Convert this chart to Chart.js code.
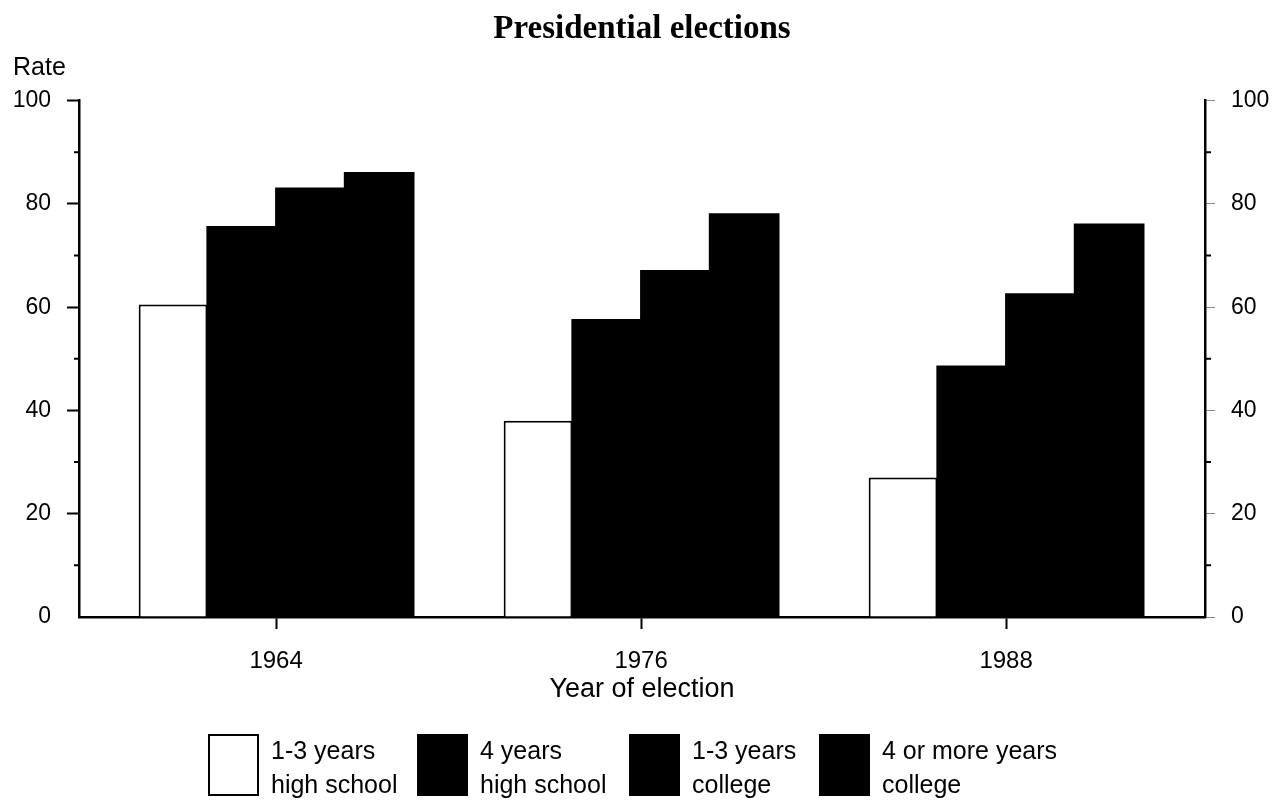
<!DOCTYPE html>
<html>
<head>
    <title>Presidential elections</title>
    <script src="https://cdn.jsdelivr.net/npm/chart.js"></script>
    <style>
        body { margin: 0; background: #fff; }
        #wrap { position: relative; width: 1284px; height: 802px; }
        #key { position: absolute; left: 0; top: 733px; width: 1284px; height: 69px;
               font: 25px "Liberation Sans", Arial, sans-serif; line-height: 34px; color: #000; }
        #key .item { position: absolute; top: 0; display: flex; }
        #key .item:nth-child(1) { left: 208px; }
        #key .item:nth-child(2) { left: 417px; }
        #key .item:nth-child(3) { left: 629px; }
        #key .item:nth-child(4) { left: 819px; }
        #key .box { width: 51px; height: 62px; margin-top: 1px; margin-right: 12px; box-sizing: border-box; }
    </style>
</head>
<body>
    <div id="wrap">
        <canvas id="myChart"></canvas>
        <div id="key"></div>
    </div>

    <script>
        // voting rate by years of school completed
        var years = ['1964', '1976', '1988'];
        var hs13 = [60.5, 38, 27];
        var hs4 = [75.5, 57.5, 48.5];
        var col13 = [83, 67, 62.5];
        var col4 = [86, 78, 76];
        var yTicks = [0, 20, 40, 60, 80, 100];
        var minorTicks = [10, 30, 50, 70, 90];
        var seriesNames = [
            ['1-3 years', 'high school'],
            ['4 years', 'high school'],
            ['1-3 years', 'college'],
            ['4 or more years', 'college']
        ];

        Chart.defaults.font.family = '"Liberation Sans", Arial, sans-serif';
        Chart.defaults.color = '#000';

        function toPoints(values) {
            return values.map(function (v, i) { return { x: i, y: v }; });
        }

        // short ticks at the odd tens on both value axes
        var minorTickPlugin = {
            id: 'minorTicks',
            afterDraw: function (chart) {
                var ctx = chart.ctx;
                var left = chart.scales.y;
                var right = chart.scales.y2;
                ctx.save();
                ctx.strokeStyle = '#000';
                ctx.lineWidth = 2;
                minorTicks.forEach(function (v) {
                    var py = left.getPixelForValue(v);
                    ctx.beginPath();
                    ctx.moveTo(left.right - 5, py);
                    ctx.lineTo(left.right, py);
                    ctx.moveTo(right.left, py);
                    ctx.lineTo(right.left + 6, py);
                    ctx.stroke();
                });
                ctx.restore();
            }
        };

        var datasets = [hs13, hs4, col13, col4].map(function (values, i) {
            return {
                label: seriesNames[i].join(' '),
                data: toPoints(values),
                backgroundColor: i === 0 ? '#fff' : '#000',
                borderColor: '#000',
                borderWidth: i === 0 ? 2 : 0,
                inflateAmount: i === 0 ? 0 : 1,
                barPercentage: 1,
                categoryPercentage: 0.753
            };
        });

        var ctx = document.getElementById('myChart').getContext('2d');
        var myChart = new Chart(ctx, {
            type: 'bar',
            data: { datasets: datasets },
            options: {
                responsive: true,
                maintainAspectRatio: false,
                animation: false,
                layout: { padding: { left: 13, right: 13, top: 0, bottom: 0 } },
                plugins: {
                    legend: { display: false },
                    tooltip: { enabled: false },
                    title: {
                        display: true,
                        text: 'Presidential elections',
                        font: { family: '"Liberation Serif", "Times New Roman", serif', size: 33, weight: 'bold' },
                        padding: { top: 10, bottom: 0 }
                    },
                    subtitle: {
                        display: true,
                        text: 'Rate',
                        align: 'start',
                        font: { size: 25 },
                        padding: { top: 4, bottom: 17 }
                    }
                },
                scales: {
                    x: {
                        type: 'linear',
                        min: -0.54,
                        max: 2.545,
                        offset: false,
                        afterBuildTicks: function (s) {
                            s.ticks = years.map(function (_, i) { return { value: i }; });
                        },
                        afterFit: function (s) { s.height = 185; },
                        ticks: {
                            callback: function (v) { return years[v]; },
                            font: { size: 24 },
                            padding: 18,
                            maxRotation: 0,
                            autoSkip: false
                        },
                        grid: { drawOnChartArea: false, offset: false, tickLength: 12, tickWidth: 2, tickColor: '#000' },
                        border: { color: '#000', width: 2.5 },
                        title: {
                            display: true,
                            text: 'Year of election',
                            font: { size: 27 },
                            padding: { top: 0, bottom: 96 }
                        }
                    },
                    y: {
                        position: 'left',
                        min: 0,
                        max: 100,
                        afterBuildTicks: function (s) {
                            s.ticks = yTicks.map(function (v) { return { value: v }; });
                        },
                        afterFit: function (s) { s.width = 66; },
                        ticks: { font: { size: 23 }, padding: 16 },
                        grid: {
                            drawOnChartArea: false,
                            tickLength: 12,
                            tickWidth: 2,
                            tickColor: function (c) {
                                return c.tick && c.tick.value === 0 ? 'rgba(0,0,0,0)' : '#000';
                            }
                        },
                        border: { color: '#000', width: 2.5 }
                    },
                    y2: {
                        position: 'right',
                        min: 0,
                        max: 100,
                        afterBuildTicks: function (s) {
                            s.ticks = yTicks.map(function (v) { return { value: v }; });
                        },
                        afterFit: function (s) { s.width = 66; },
                        ticks: { font: { size: 23 }, padding: 16 },
                        grid: { drawOnChartArea: false, tickLength: 10, tickWidth: 1, tickColor: '#888' },
                        border: { color: '#000', width: 2.5 }
                    }
                }
            },
            plugins: [minorTickPlugin]
        });

        // two-line legend under the axis title
        var key = document.getElementById('key');
        datasets.forEach(function (ds, i) {
            var item = document.createElement('div');
            item.className = 'item';
            var box = document.createElement('div');
            box.className = 'box';
            box.style.background = ds.backgroundColor;
            if (i === 0) box.style.border = '2px solid #000';
            var text = document.createElement('div');
            text.innerHTML = seriesNames[i].join('<br>');
            item.appendChild(box);
            item.appendChild(text);
            key.appendChild(item);
        });
    </script>
</body>
</html>
